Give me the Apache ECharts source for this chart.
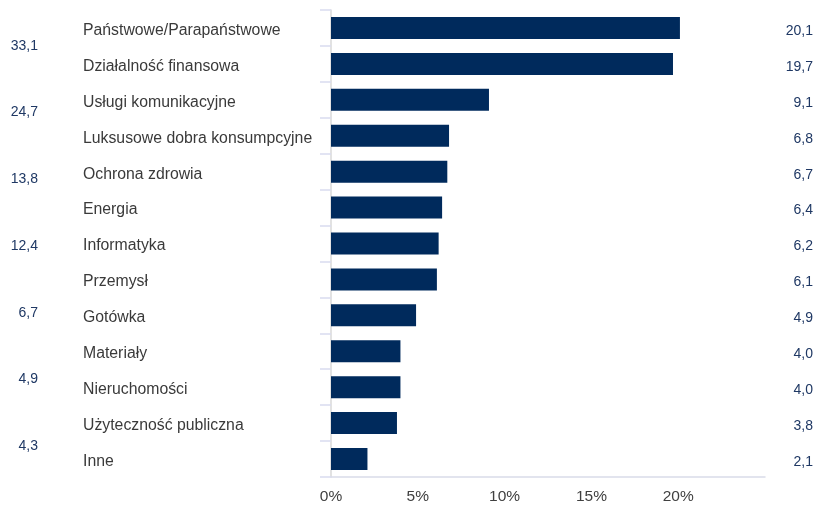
<!DOCTYPE html>
<html>
<head>
<meta charset="utf-8">
<script src="https://cdn.jsdelivr.net/npm/echarts@6/dist/echarts.min.js"></script>
<style>html,body{margin:0;padding:0;background:#fff}#c{width:825px;height:506px}</style>
</head>
<body>
<div id="c"></div>
<script>
const categories = ['Państwowe/Parapaństwowe','Działalność finansowa','Usługi komunikacyjne','Luksusowe dobra konsumpcyjne','Ochrona zdrowia','Energia','Informatyka','Przemysł','Gotówka','Materiały','Nieruchomości','Użyteczność publiczna','Inne'];
const values = [20.1,19.7,9.1,6.8,6.7,6.4,6.2,6.1,4.9,4.0,4.0,3.8,2.1];
const leftValues = [33.1,24.7,13.8,12.4,6.7,4.9,4.3];
const xTicks = [0,5,10,15,20];

const fmt = v => v.toFixed(1).replace('.', ',');
const font = 'Liberation Sans, Arial, sans-serif';
const wrap = v => '{a|' + v + '}';
const chart = echarts.init(document.getElementById('c'));
chart.setOption({
  animation: false,
  grid: {left: 331, right: 60, top: 10, bottom: 29},
  xAxis: {
    type: 'value', min: 0, max: 25, interval: 5,
    splitLine: {show: false},
    axisLine: {show: true, lineStyle: {color: '#d9dbe9', width: 1.5}},
    axisTick: {show: false},
    axisLabel: {
      color: '#404040', fontFamily: font, fontSize: 15.5, margin: 12,
      formatter: v => xTicks.indexOf(v) >= 0 ? v + '%' : ''
    }
  },
  yAxis: [
    {
      type: 'category', data: categories, inverse: true, position: 'left',
      axisLine: {show: true, lineStyle: {color: '#d9d9d9', width: 1.5}},
      axisTick: {show: true, length: 11, lineStyle: {color: '#d9dbef', width: 1.5}},
      axisLabel: {align: 'left', margin: 248, formatter: wrap,
        rich: {a: {color: '#3a3a3a', fontFamily: font, fontSize: 15.8, padding: [5, 0, 0, 0]}}}
    },
    {
      type: 'category', data: values.map(fmt), inverse: true, position: 'right',
      axisLine: {show: false}, axisTick: {show: false},
      axisLabel: {align: 'right', margin: 48, formatter: wrap,
        rich: {a: {color: '#1f3864', fontFamily: font, fontSize: 14, padding: [6, 0, 0, 0]}}}
    },
    {
      type: 'category', data: leftValues.map(fmt), inverse: true, position: 'left',
      axisLine: {show: false}, axisTick: {show: false},
      axisLabel: {align: 'right', margin: 293, formatter: wrap,
        rich: {a: {color: '#1f3864', fontFamily: font, fontSize: 14, padding: [5, 0, 0, 0]}}}
    }
  ],
  series: [{
    type: 'bar', data: values, yAxisIndex: 0, barWidth: 22,
    itemStyle: {color: '#002a5c'}
  }]
});
</script>
</body>
</html>
